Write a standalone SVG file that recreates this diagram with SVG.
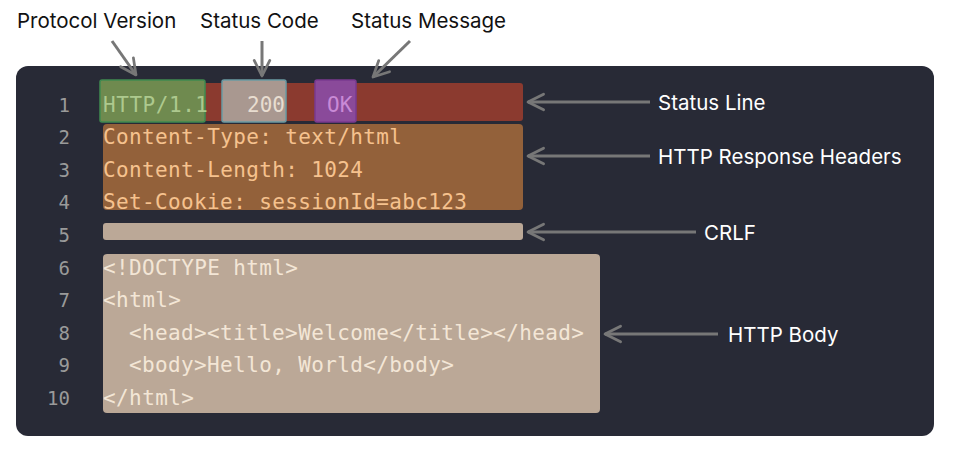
<svg xmlns="http://www.w3.org/2000/svg" width="958" height="457" viewBox="0 0 958 457">
<style>
.lbl{font-family:Inter,"Liberation Sans",sans-serif;font-size:20.5px;fill:#111}
.w{fill:#fff}
.code{font-family:"DejaVu Sans Mono",monospace;font-size:21px}
.ln{font-family:"DejaVu Sans Mono",monospace;font-size:19px;fill:#9a9a9a;text-anchor:end}
.arr{stroke:#777;stroke-width:3;fill:none;marker-end:url(#ah)}
</style>
<defs>
<marker id="ah" viewBox="0 0 10 10" refX="9" refY="5" markerWidth="6.5" markerHeight="6.5" orient="auto" markerUnits="strokeWidth">
<path d="M1,1 L9,5 L1,9" fill="none" stroke="#777" stroke-width="1.4" stroke-linejoin="round" stroke-linecap="round"/>
</marker>
</defs>
<rect width="958" height="457" fill="#fff"/>
<rect x="16" y="66" width="918" height="370" rx="12" fill="#282a36"/>
<g id="lines">
<text class="ln" x="70" y="112">1</text><text class="ln" x="70" y="144">2</text><text class="ln" x="70" y="177">3</text><text class="ln" x="70" y="209">4</text><text class="ln" x="70" y="242">5</text><text class="ln" x="70" y="275">6</text><text class="ln" x="70" y="307">7</text><text class="ln" x="70" y="340">8</text><text class="ln" x="70" y="372">9</text><text class="ln" x="70" y="405">10</text>
</g>
<g id="status-line">
<rect x="103" y="83" width="420" height="38" rx="3" fill="#8b3a2f"/>
<rect x="100" y="80" width="105" height="42" rx="2" fill="#6f8a4f" stroke="#3f8a50" stroke-width="1.5"/>
<rect x="222" y="80" width="64" height="42" rx="2" fill="#a99890" stroke="#6a9aa2" stroke-width="1.5"/>
<rect x="315" y="80" width="41" height="42" rx="2" fill="#8a4a9a" stroke="#7a3a90" stroke-width="1.5"/>
<text class="code" x="103" y="112" fill="#adc98e" textLength="105">HTTP/1.1</text>
<text class="code" x="247" y="112" fill="#e8ddd0">200</text>
<text class="code" x="327" y="112" fill="#c98ad6">OK</text>
</g>
<g id="headers">
<rect x="103" y="124" width="420" height="86" rx="4" fill="#93613a"/>
<text class="code" x="103" y="144" fill="#f6c28e" textLength="299">Content-Type: text/html</text>
<text class="code" x="103" y="177" fill="#f6c28e" textLength="260">Content-Length: 1024</text>
<text class="code" x="103" y="209" fill="#f6c28e" textLength="364">Set-Cookie: sessionId=abc123</text>
</g>
<g id="crlf"><rect x="103" y="223" width="420" height="17" rx="3" fill="#bba897"/></g>
<g id="body">
<rect x="103" y="254" width="497" height="159" rx="4" fill="#bba897"/>
<text class="code" x="103" y="275" fill="#f3e6d6" textLength="195">&lt;!DOCTYPE html&gt;</text>
<text class="code" x="103" y="307" fill="#f3e6d6" textLength="78">&lt;html&gt;</text>
<text class="code" x="129" y="340" fill="#f3e6d6" textLength="455">&lt;head&gt;&lt;title&gt;Welcome&lt;/title&gt;&lt;/head&gt;</text>
<text class="code" x="129" y="372" fill="#f3e6d6" textLength="325">&lt;body&gt;Hello, World&lt;/body&gt;</text>
<text class="code" x="103" y="405" fill="#f3e6d6" textLength="91">&lt;/html&gt;</text>
</g>
<g id="labels">
<text class="lbl" x="17" y="28">Protocol Version</text>
<text class="lbl" x="200" y="28">Status Code</text>
<text class="lbl" x="351" y="28">Status Message</text>
<text class="lbl w" x="658" y="110">Status Line</text>
<text class="lbl w" x="658" y="164">HTTP Response Headers</text>
<text class="lbl w" x="704" y="240">CRLF</text>
<text class="lbl w" x="728" y="342">HTTP Body</text>
</g>
<g id="connectors">
<path class="arr" d="M112,41 L136,75"/>
<path class="arr" d="M262,41 L262,76"/>
<path class="arr" d="M410,41 L373,77"/>
<path class="arr" d="M650,102 L528,102"/>
<path class="arr" d="M650,156 L528,156"/>
<path class="arr" d="M696,232 L528,232"/>
<path class="arr" d="M718,334 L605,334"/>
</g>
</svg>
